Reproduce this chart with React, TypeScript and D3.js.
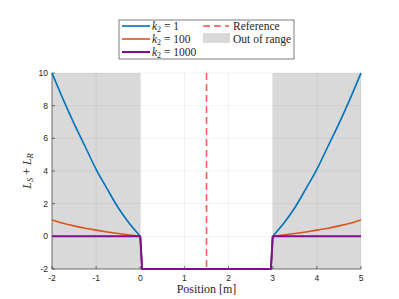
import * as d3 from "d3";

// positions along the track [m]
const positions = [
  -2, -1.75, -1.5, -1.25, -1, -0.75, -0.5, -0.25, 0, 0.04,
  2.96, 3, 3.25, 3.5, 3.75, 4, 4.25, 4.5, 4.75, 5,
];
const k1Values = [10, 8.4, 6.9, 5.5, 4.1, 2.9, 1.75, 0.8, 0, -2, -2, 0, 0.8, 1.75, 2.9, 4.1, 5.5, 6.9, 8.4, 10];
const k100Values = [1, 0.8, 0.64, 0.5, 0.38, 0.27, 0.17, 0.08, 0, -2, -2, 0, 0.08, 0.17, 0.27, 0.38, 0.5, 0.64, 0.8, 1];
const k1000Values = [0, 0, 0, 0, 0, 0, 0, 0, 0, -2, -2, 0, 0, 0, 0, 0, 0, 0, 0, 0];

const outOfRange = [
  [-2, 0],
  [3, 5],
];
const referencePos = 1.5;
const xTicks = [-2, -1, 0, 1, 2, 3, 4, 5];
const yTicks = [-2, 0, 2, 4, 6, 8, 10];

const series = [
  { name: "1", values: k1Values, color: "#0072bd", width: 1.6 },
  { name: "100", values: k100Values, color: "#d95319", width: 1.6 },
  { name: "1000", values: k1000Values, color: "#7e0f8e", width: 2 },
];

const W = 399;
const H = 299;
const m = { left: 52, right: 38, top: 73, bottom: 30 };

export default function App() {
  const x = d3.scaleLinear().domain([-2, 5]).range([m.left, W - m.right]);
  const y = d3.scaleLinear().domain([-2, 10]).range([H - m.bottom, m.top]);
  const smooth = d3
    .line<[number, number]>()
    .x((d) => x(d[0]))
    .y((d) => y(d[1]))
    .curve(d3.curveMonotoneX);
  const straight = d3
    .line<[number, number]>()
    .x((d) => x(d[0]))
    .y((d) => y(d[1]));

  // smooth outside the track, sharp steps at the track edges
  const pathFor = (values: number[]) => {
    const pts = values.map((v, i) => [positions[i], v] as [number, number]);
    const iL = positions.indexOf(0);
    const iR = positions.indexOf(3);
    return (
      (smooth(pts.slice(0, iL + 1)) ?? "") +
      (straight(pts.slice(iL, iR + 1)) ?? "") +
      (smooth(pts.slice(iR)) ?? "")
    );
  };

  const serif = "'Liberation Serif', 'DejaVu Serif', serif";
  const sans = "'Liberation Sans', Arial, sans-serif";
  const x0 = x.range()[0];
  const x1 = x.range()[1];
  const yTop = y.range()[1];
  const yBot = y.range()[0];

  return (
    <svg
      width={W}
      height={H}
      style={{ position: "absolute", left: 0, top: 0, background: "#fff" }}
    >
      {outOfRange.map(([a, b]) => (
        <rect
          key={a}
          x={x(a)}
          y={yTop}
          width={x(b) - x(a)}
          height={yBot - yTop}
          fill="#d9d9d9"
        />
      ))}
      {/* grid */}
      {xTicks.map((t) => (
        <line key={"gx" + t} x1={x(t)} x2={x(t)} y1={yTop} y2={yBot} stroke="#000" strokeOpacity={0.1} strokeWidth={0.6} />
      ))}
      {yTicks.map((t) => (
        <line key={"gy" + t} x1={x0} x2={x1} y1={y(t)} y2={y(t)} stroke="#000" strokeOpacity={0.1} strokeWidth={0.6} />
      ))}
      {/* axes */}
      <line x1={x0} x2={x0} y1={yTop} y2={yBot} stroke="#262626" strokeWidth={0.6} />
      <line x1={x0} x2={x1} y1={yBot} y2={yBot} stroke="#262626" strokeWidth={0.6} />
      {xTicks.map((t) => (
        <g key={"tx" + t}>
          <line x1={x(t)} x2={x(t)} y1={yBot} y2={yBot - 3} stroke="#262626" strokeWidth={0.6} />
          <text x={x(t)} y={yBot + 12} fontSize={8.5} fontFamily={sans} fill="#262626" textAnchor="middle">
            {t}
          </text>
        </g>
      ))}
      {yTicks.map((t) => (
        <g key={"ty" + t}>
          <line x1={x0} x2={x0 + 3} y1={y(t)} y2={y(t)} stroke="#262626" strokeWidth={0.6} />
          <text x={x0 - 4} y={y(t) + 3} fontSize={8.5} fontFamily={sans} fill="#262626" textAnchor="end">
            {t}
          </text>
        </g>
      ))}
      {/* data */}
      {series.map((s) => (
        <path key={s.name} d={pathFor(s.values)} fill="none" stroke={s.color} strokeWidth={s.width} strokeLinejoin="round" />
      ))}
      <line
        x1={x(referencePos)}
        x2={x(referencePos)}
        y1={yTop}
        y2={yBot}
        stroke="#ff4d4d"
        strokeWidth={1.6}
        strokeDasharray="7 4"
        strokeOpacity={0.9}
      />
      {/* labels */}
      <text x={(x0 + x1) / 2} y={H - 6} fontSize={12} fontFamily={serif} textAnchor="middle" fill="#262626">
        Position [m]
      </text>
      <text
        transform={`translate(31,${(yTop + yBot) / 2}) rotate(-90)`}
        fontSize={12}
        fontFamily={serif}
        textAnchor="middle"
        fill="#262626"
      >
        <tspan fontStyle="italic">L</tspan>
        <tspan fontStyle="italic" fontSize={8.5} dy={2}>S</tspan>
        <tspan dy={-2}> + </tspan>
        <tspan fontStyle="italic">L</tspan>
        <tspan fontStyle="italic" fontSize={8.5} dy={2}>R</tspan>
      </text>
      {/* legend */}
      <g>
        <rect x={119} y={20} width={175} height={39} fill="#fff" stroke="#262626" strokeWidth={0.6} />
        {series.map((s, i) => (
          <g key={"lg" + s.name} transform={`translate(122,${26 + i * 13})`}>
            <line x1={0} x2={28} y1={0} y2={0} stroke={s.color} strokeWidth={s.width} />
            <text x={30} y={4} fontSize={11.5} fontFamily={serif} fill="#262626">
              <tspan fontStyle="italic">k</tspan>
              <tspan fontSize={8} dy={2}>2</tspan>
              <tspan dy={-2}> = {s.name}</tspan>
            </text>
          </g>
        ))}
        <line x1={203} x2={229} y1={26} y2={26} stroke="#ff4d4d" strokeWidth={1.6} strokeDasharray="7 4" />
        <text x={233} y={30} fontSize={11.5} fontFamily={serif} fill="#262626">
          Reference
        </text>
        <rect x={203} y={33} width={27} height={10} fill="#d9d9d9" />
        <text x={233} y={43} fontSize={11.5} fontFamily={serif} fill="#262626">
          Out of range
        </text>
      </g>
    </svg>
  );
}
